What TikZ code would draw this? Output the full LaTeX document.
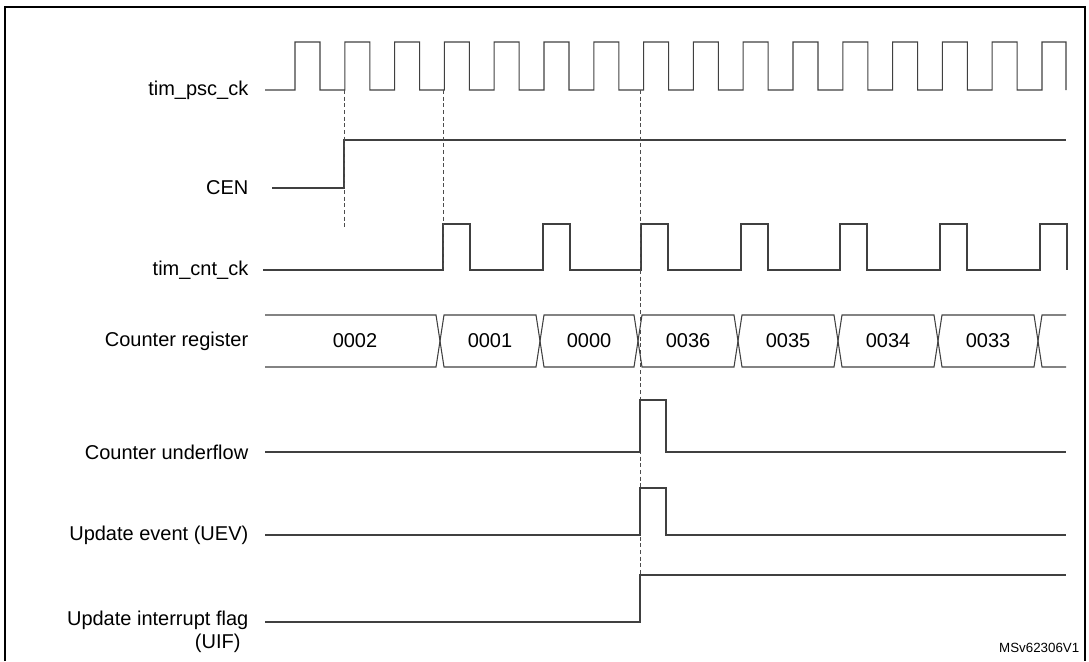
\documentclass[tikz,border=0pt]{standalone}
\usepackage{fontspec}
\setmainfont{Liberation Sans}
\begin{document}
\begin{tikzpicture}[x=0.75pt,y=-0.75pt,
  sig/.style={line width=0.8pt,black!75},
  dsh/.style={densely dashed,line width=0.6pt,black!70},
  lbl/.style={anchor=east,font=\fontsize{15}{17}\selectfont,align=center}]
\useasboundingbox (0,0) rectangle (1089,661);
\draw[line width=1.5pt] (5,661) -- (5,7) -- (1085,7) -- (1085,661);
% labels
\node[lbl] (l1) at (253,90) {tim\_psc\_ck};
\node[lbl] (l2) at (253,188) {CEN};
\node[lbl] (l3) at (253,270) {tim\_cnt\_ck};
\node[lbl] (l4) at (253,341) {Counter register};
\node[lbl] (l5) at (253,452) {Counter underflow};
\node[lbl] (l6) at (253,535) {Update event (UEV)};
\node[lbl] (l7) at (253,632) {Update interrupt flag\\\hspace*{6em}(UIF)};
\node[anchor=east,font=\fontsize{10}{11}\selectfont] (mv) at (1084,648) {MSv62306V1};
% tim_psc_ck
\draw[sig] (265,90) -- (295,90)
 \foreach \k in {0,...,14} { -- ({295+49.8*\k},90) -- ({295+49.8*\k},42) -- ({320+49.8*\k},42) -- ({320+49.8*\k},90) -- ({344.8+49.8*\k},90)}
 -- (1042,42) -- (1066,42) -- (1066,90);
% CEN
\draw[sig] (272,188) -- (344,188) -- (344,140) -- (1066,140);
% tim_cnt_ck
\draw[sig] (263,270) -- (443,270)
 \foreach \s in {443,543,641,741,840,940,1040} { -- (\s,270) -- (\s,224) -- ({\s+27},224) -- ({\s+27},270)};
% dashed
\draw[dsh] (344,90) -- (344,228);
\draw[dsh] (443,90) -- (443,270);
\draw[dsh] (640,90) -- (640,575);
% counter register
\draw[sig] (265,315) -- (436,315) -- (444,367) -- (536,367) -- (544,315) -- (634,315) -- (642,367) -- (734,367) -- (742,315) -- (834,315) -- (842,367) -- (934,367) -- (942,315) -- (1034,315) -- (1042,367) -- (1066,367);
\draw[sig] (265,367) -- (436,367) -- (444,315) -- (536,315) -- (544,367) -- (634,367) -- (642,315) -- (734,315) -- (742,367) -- (834,367) -- (842,315) -- (934,315) -- (942,367) -- (1034,367) -- (1042,315) -- (1066,315);
\foreach \x/\t [count=\i] in {355/0002,490/0001,589/0000,688/0036,788/0035,888/0034,988/0033}
  \node[font=\fontsize{15}{17}\selectfont] (v\i) at (\x,341) {\t};
% underflow, UEV
\draw[sig] (265,452) -- (640,452) -- (640,400) -- (666,400) -- (666,452) -- (1066,452);
\draw[sig] (265,535) -- (640,535) -- (640,488) -- (666,488) -- (666,535) -- (1066,535);
% UIF
\draw[sig] (265,622) -- (640,622) -- (640,575) -- (1066,575);
\end{tikzpicture}
\end{document}
